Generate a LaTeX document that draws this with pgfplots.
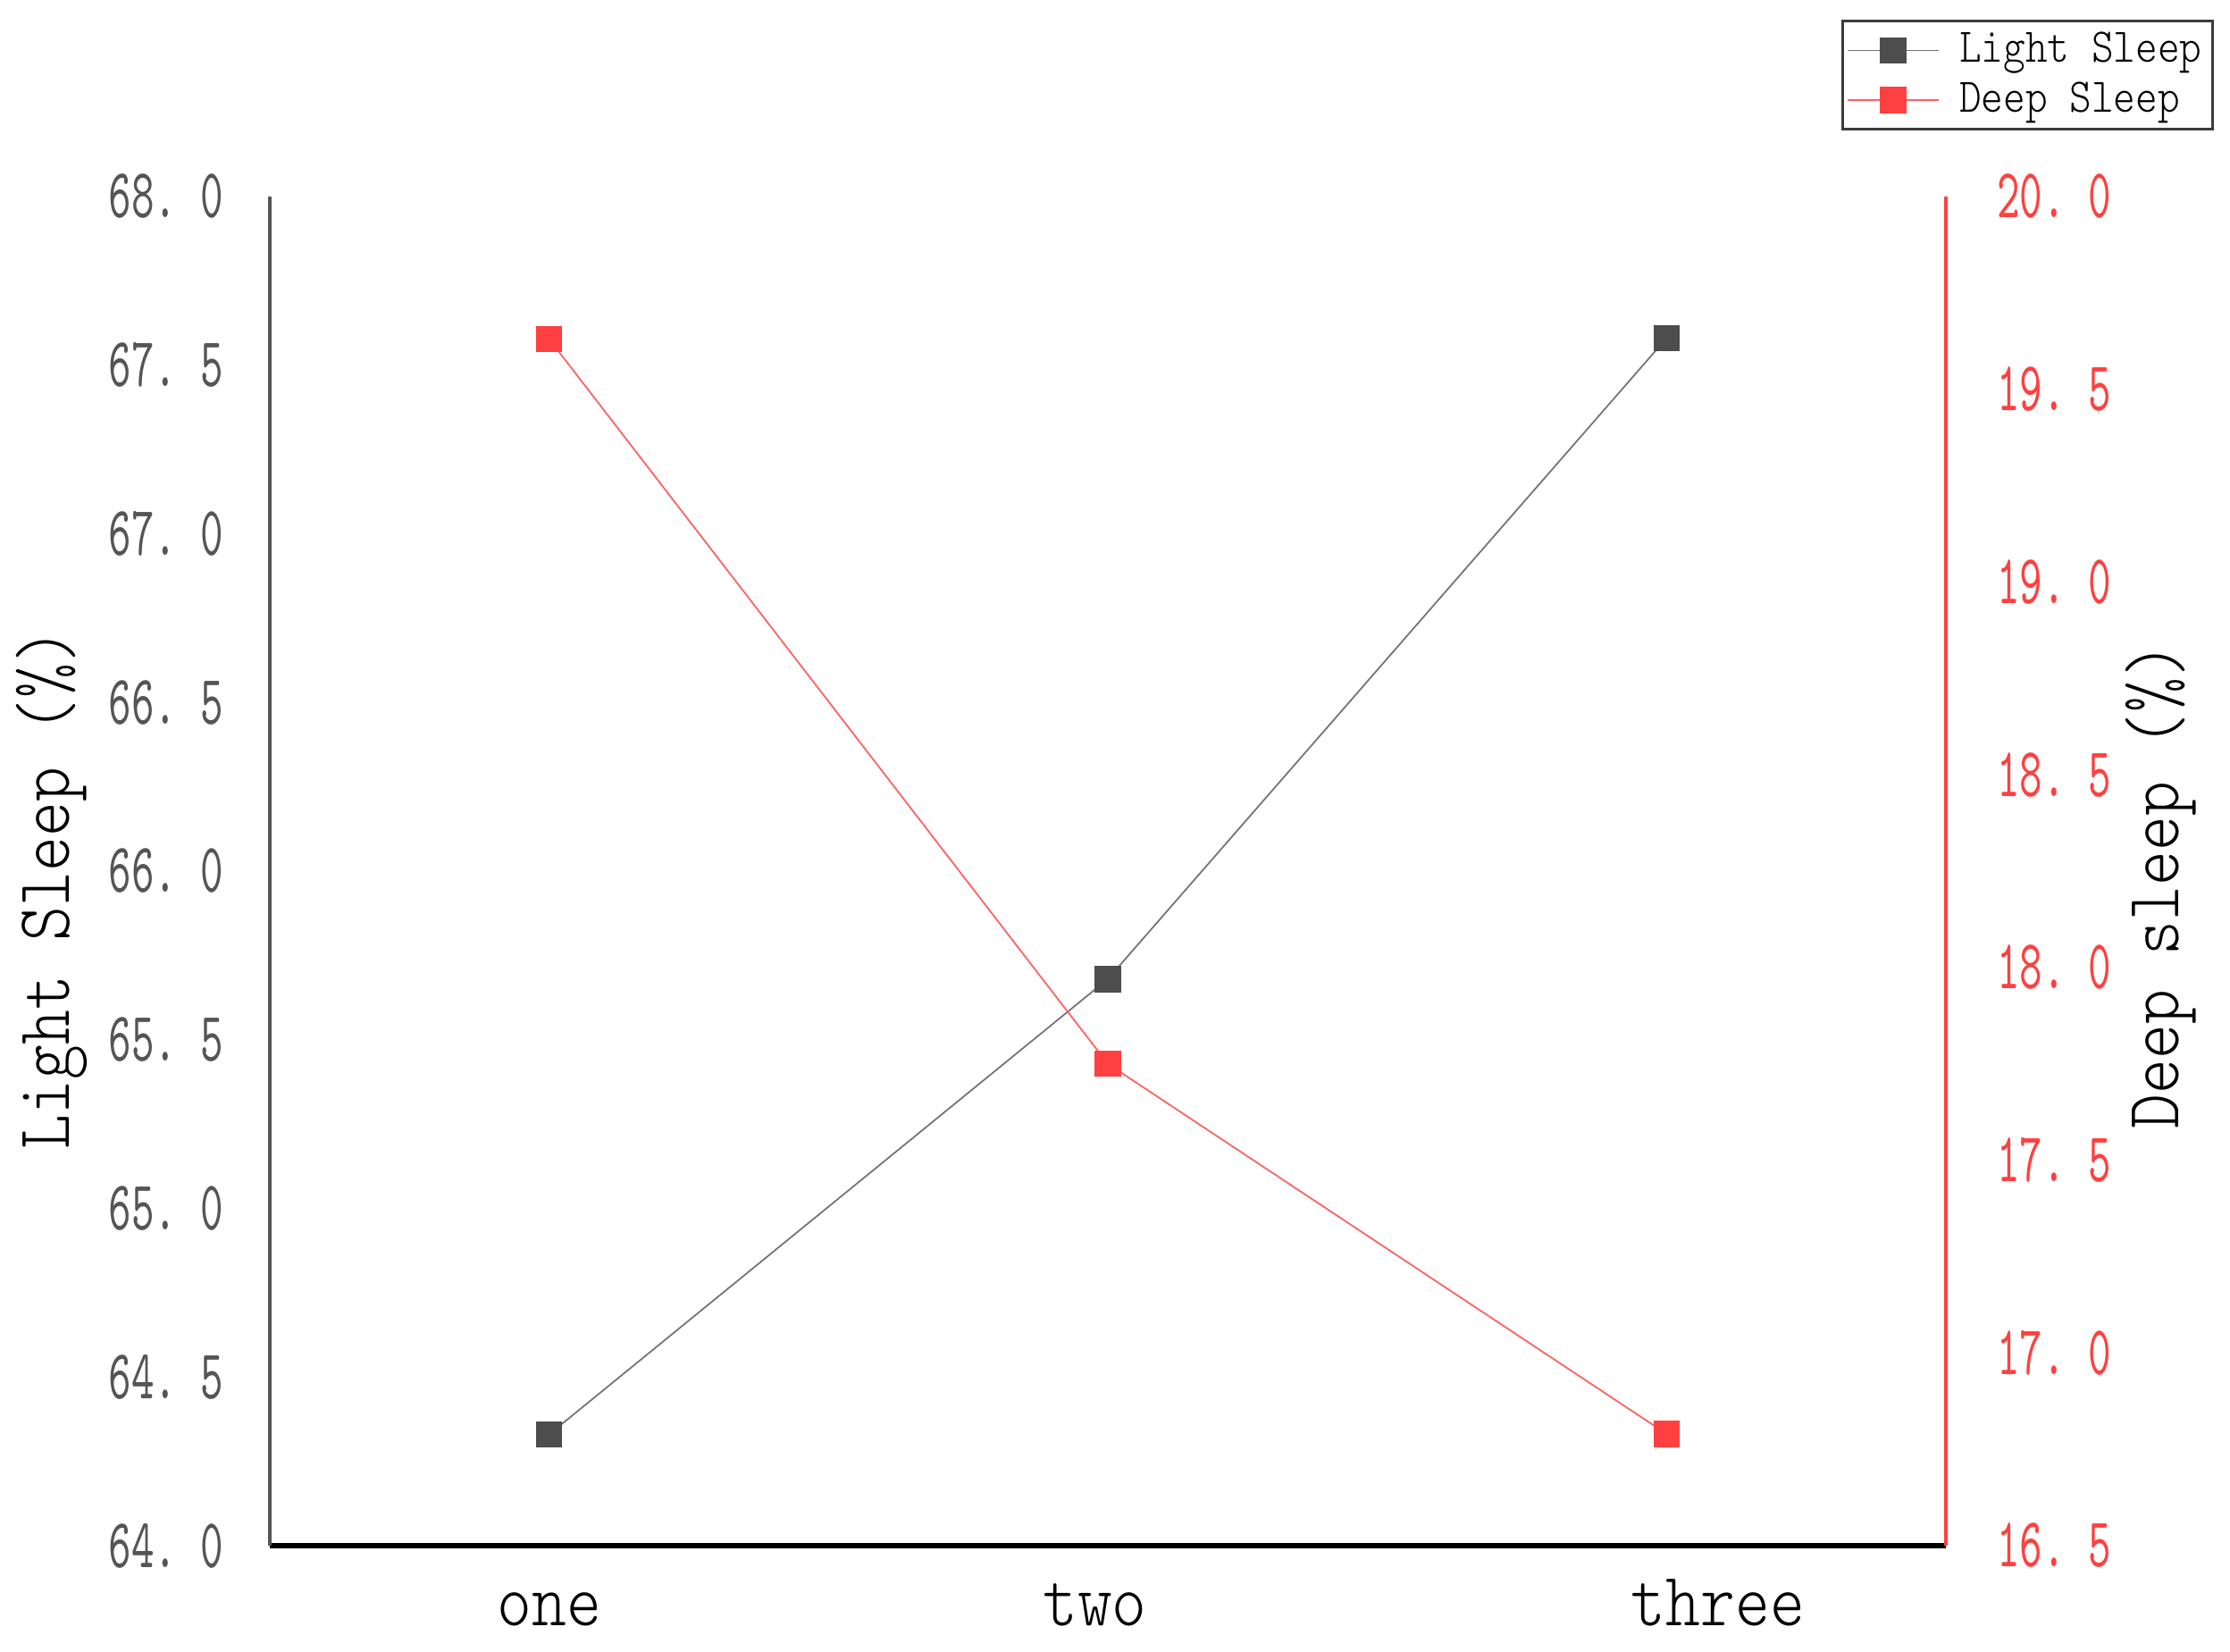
\documentclass[border=0pt]{standalone}
\usepackage{fontspec}
\usepackage{pgfplots}
\pgfplotsset{compat=1.18}
\newfontfamily\tickfont{lmmono10-regular.otf}[FakeStretch=0.62]
\newfontfamily\labfont{lmmonolt10-regular.otf}[FakeStretch=0.87]
\definecolor{lsgray}{RGB}{77,77,77}
\definecolor{lsline}{RGB}{115,115,115}
\definecolor{dsred}{RGB}{255,64,64}
\definecolor{dsline}{RGB}{255,95,95}
\definecolor{ticgray}{RGB}{85,85,85}
\definecolor{axgray}{RGB}{85,85,85}
\definecolor{legbox}{RGB}{60,60,60}

\pgfplotsset{
  common/.style={
    width=375.2pt, height=302pt, scale only axis,
    xmin=-0.5, xmax=2.5,
    major tick length=0pt,
    clip=false,
    yticklabel style={font=\tickfont\fontsize{15.7}{16}\selectfont, inner sep=0pt},
    /pgf/number format/fixed,
    /pgf/number format/fixed zerofill,
    /pgf/number format/precision=1,
    /pgf/number format/assume math mode=true,
    /pgf/number format/dec sep={.\hspace{0.33em}},
  },
  lightstyle/.style={lsline, line width=0.35pt, mark=square*, mark size=2.85pt,
    mark options={fill=lsgray, draw=lsgray, line width=0.2pt}},
  deepstyle/.style={dsline, line width=0.35pt, mark=square*, mark size=2.85pt,
    mark options={fill=dsred, draw=dsred, line width=0.2pt}},
}

\begin{document}
\begin{tikzpicture}
% left axis: light sleep
\begin{axis}[common, name=ax,
  axis x line*=bottom, axis y line*=left,
  ymin=64, ymax=68,
  ytick={64,64.5,65,65.5,66,66.5,67,67.5,68},
  xtick={0,1,2}, xticklabels={one,{\hspace*{-5.8pt}two},{\hspace*{23pt}three}},
  xticklabel style={font=\labfont\fontsize{17}{18}\selectfont, anchor=base, yshift=-18pt, inner sep=0pt, text=black},
  yticklabel style={text=ticgray, anchor=east, xshift=-10.2pt},
  x axis line style={black, line width=1.1pt},
  y axis line style={axgray, line width=0.8pt},
  ylabel={Light Sleep (\%)},
  ylabel style={font=\labfont\fontsize{17}{18}\selectfont, at={(axis description cs:-0.1303,0.4868)}, anchor=center},
]
\addplot[lightstyle] coordinates {(0,64.33) (1,65.68) (2,67.58)};
\end{axis}
% right axis: deep sleep
\begin{axis}[common,
  axis x line=none, axis y line*=right,
  ymin=16.5, ymax=20,
  ytick={16.5,17,17.5,18,18.5,19,19.5,20},
  yticklabel style={text=dsred, anchor=west, xshift=11.2pt},
  y axis line style={dsred, line width=0.8pt},
  ylabel={Deep sleep (\%)},
  ylabel style={font=\labfont\fontsize{17}{18}\selectfont, at={(axis description cs:1.128,0.489)}, anchor=center},
  legend style={at={(1.16,1.131)}, anchor=north east, draw=legbox, line width=0.6pt,
    inner sep=1pt, font=\labfont\fontsize{10.8}{12}\selectfont, row sep=0pt,
    nodes={inner sep=1.45pt, text=black},
    /tikz/every odd column/.append style={column sep=3pt}},
  legend cell align=left,
  legend image code/.code={\draw[mark repeat=2, mark phase=2] plot coordinates {(0pt,0pt) (10.2pt,0pt) (20.4pt,0pt)};},
]
\addlegendimage{lightstyle}
\addlegendentry{Light Sleep}
\addplot[deepstyle] coordinates {(0,19.63) (1,17.75) (2,16.79)};
\addlegendentry{Deep Sleep}
\end{axis}
\path ([shift={(-60.4pt,-23.8pt)}]ax.south west) rectangle ([shift={(63.6pt,44pt)}]ax.north east);
\end{tikzpicture}
\end{document}
